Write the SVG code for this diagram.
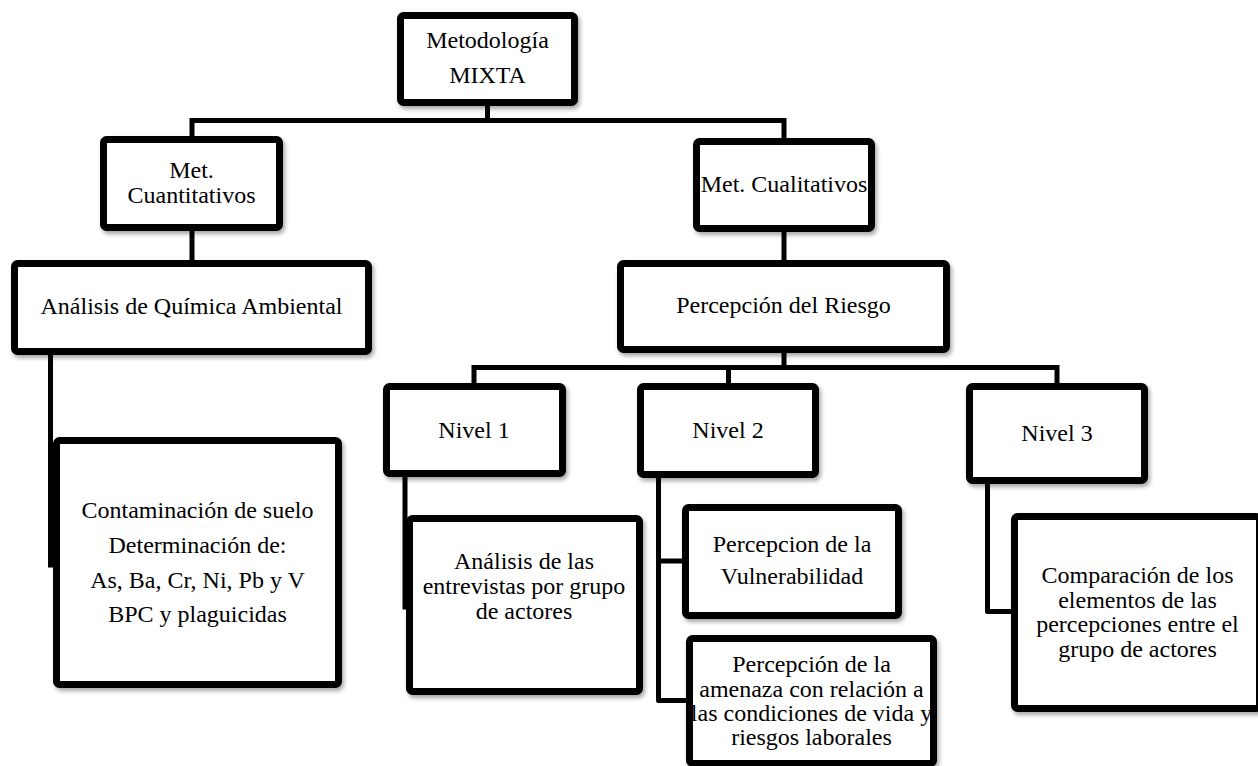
<svg xmlns="http://www.w3.org/2000/svg" width="1258" height="766" viewBox="0 0 1258 766">
  <defs>
    <filter id="sh" x="-10%" y="-10%" width="130%" height="130%">
      <feDropShadow dx="2" dy="3" stdDeviation="2" flood-color="#000" flood-opacity="0.35"/>
    </filter>
    <style>
      .box { fill: #fff; stroke: #000; stroke-width: 7; rx: 3; filter: url(#sh); }
      .conn { fill: none; stroke: #000; stroke-width: 5; stroke-linejoin: round; stroke-linecap: square; }
      text { font-family: "Liberation Serif", "Times New Roman", serif; font-size: 24px; fill: #000; text-anchor: middle; }
    </style>
  </defs>
  <rect width="1258" height="766" fill="#fff"/>

  <g id="connectors">
    <path class="conn" d="M487.5,106 V120.5 M192,120.5 H784 M192,120.5 V136 M784,120.5 V138"/>
    <path class="conn" d="M192,231 V260"/>
    <path class="conn" d="M784,232 V260"/>
    <path class="conn" d="M50.5,355 V565"/>
    <path class="conn" d="M784,353 V367.5 M474,367.5 H1057 M474,367.5 V383 M728.5,367.5 V383 M1057,367.5 V383"/>
    <path class="conn" d="M405,477 V607"/>
    <path class="conn" d="M658.5,478 V700.5 H687 M658.5,561 H682"/>
    <path class="conn" d="M987.5,484 V611.5 H1011"/>
  </g>

  <g id="n-mixta">
    <rect class="box" x="400.5" y="15.5" width="174" height="87"/>
    <text x="487.5" y="48">Metodología</text>
    <text x="487.5" y="83">MIXTA</text>
  </g>
  <g id="n-cuant">
    <rect class="box" x="103.5" y="139.5" width="176" height="88"/>
    <text x="191.5" y="178">Met.</text>
    <text x="191.5" y="203">Cuantitativos</text>
  </g>
  <g id="n-cual">
    <rect class="box" x="696.5" y="141.5" width="175" height="87"/>
    <text x="784" y="192">Met. Cualitativos</text>
  </g>
  <g id="n-analisis">
    <rect class="box" x="14.5" y="263.5" width="354" height="88"/>
    <text x="191.5" y="314">Análisis de Química Ambiental</text>
  </g>
  <g id="n-riesgo">
    <rect class="box" x="620.5" y="263.5" width="326" height="86"/>
    <text x="783.5" y="313">Percepción del Riesgo</text>
  </g>
  <g id="n-contaminacion">
    <rect class="box" x="56.5" y="440.5" width="282" height="244"/>
    <text x="197.5" y="518">Contaminación de suelo</text>
    <text x="197.5" y="553">Determinación de:</text>
    <text x="197.5" y="588">As, Ba, Cr, Ni, Pb y V</text>
    <text x="197.5" y="622">BPC y plaguicidas</text>
  </g>
  <g id="n-nivel1">
    <rect class="box" x="386.5" y="386.5" width="176" height="87"/>
    <text x="474" y="438">Nivel 1</text>
  </g>
  <g id="n-nivel2">
    <rect class="box" x="640.5" y="386.5" width="175" height="88"/>
    <text x="728" y="438">Nivel 2</text>
  </g>
  <g id="n-nivel3">
    <rect class="box" x="969.5" y="386.5" width="175" height="94"/>
    <text x="1057" y="441">Nivel 3</text>
  </g>
  <g id="n-entrevistas">
    <rect class="box" x="409.5" y="518.5" width="230" height="173"/>
    <text x="524" y="569">Análisis de las</text>
    <text x="524" y="594">entrevistas por grupo</text>
    <text x="524" y="619">de actores</text>
  </g>
  <g id="n-vulnerabilidad">
    <rect class="box" x="685.5" y="507.5" width="213" height="108"/>
    <text x="792" y="552">Percepcion de la</text>
    <text x="792" y="584">Vulnerabilidad</text>
  </g>
  <g id="n-amenaza">
    <rect class="box" x="689.5" y="638.5" width="244" height="125"/>
    <text x="811.5" y="672">Percepción de la</text>
    <text x="811.5" y="697">amenaza con relación a</text>
    <text x="811.5" y="721">las condiciones de vida y</text>
    <text x="811.5" y="745">riesgos laborales</text>
  </g>
  <g id="n-comparacion">
    <rect class="box" x="1014.5" y="516.5" width="245" height="192"/>
    <text x="1137.5" y="583">Comparación de los</text>
    <text x="1137.5" y="608">elementos de las</text>
    <text x="1137.5" y="632">percepciones entre el</text>
    <text x="1137.5" y="657">grupo de actores</text>
  </g>
</svg>
